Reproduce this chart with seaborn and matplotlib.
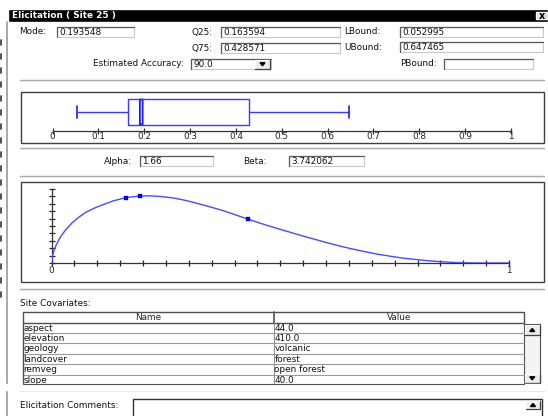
import numpy as np
import pandas as pd
import matplotlib
matplotlib.use("Agg")
import matplotlib.pyplot as plt
import seaborn as sns
from matplotlib.patches import Rectangle, FancyBboxPatch

# elicited values (beta distribution for site 25)
mode_val = 0.193548
q25_val = 0.163594
q75_val = 0.428571
lbound_val = 0.052995
ubound_val = 0.647465
alpha_val = 1.66
beta_val = 3.742062
accuracy = "90.0"

# density curve (y in axis tick units)
curve_x = [0.0, 0.002, 0.005, 0.010, 0.016, 0.0215, 0.03, 0.0445, 0.06, 0.075,
           0.095, 0.1135, 0.135, 0.1636, 0.1935, 0.215, 0.24, 0.267, 0.29, 0.313,
           0.34, 0.374, 0.40, 0.4286, 0.46, 0.497, 0.53, 0.558, 0.59, 0.620,
           0.65, 0.681, 0.71, 0.742, 0.77, 0.804, 0.83, 0.850, 0.875, 0.896,
           0.92, 0.94, 1.0]
curve_y = [0.0, 0.9, 1.6, 2.4, 3.1, 3.7, 4.4, 5.4, 6.2, 6.85,
           7.45, 7.9, 8.4, 8.85, 9.05, 9.08, 8.98, 8.78, 8.5, 8.15,
           7.7, 7.1, 6.55, 5.95, 5.3, 4.6, 4.0, 3.5, 2.95, 2.45,
           2.0, 1.58, 1.22, 0.9, 0.65, 0.42, 0.27, 0.18, 0.09, 0.04,
           0.01, 0.0, 0.0]
marker_x = [q25_val, mode_val, q75_val]
marker_y = [8.85, 9.05, 5.95]

box_ticks = [0, 0.1, 0.2, 0.3, 0.4, 0.5, 0.6, 0.7, 0.8, 0.9, 1]
box_tick_labels = ["0", "0.1", "0.2", "0.3", "0.4", "0.5", "0.6", "0.7", "0.8", "0.9", "1"]

cov_names = ["aspect", "elevation", "geology", "landcover", "remveg", "slope"]
cov_values = ["44.0", "410.0", "volcanic", "forest", "open forest", "40.0"]

W, H = 548, 416
FS = 6.4
BLUE = "#3b3bff"

sns.set_style("white")
plt.rcParams["font.family"] = ["DejaVu Sans"]

fig = plt.figure(figsize=(W / 100, H / 100), dpi=100)
canvas = fig.add_axes([0, 0, 1, 1])
canvas.set_xlim(0, W)
canvas.set_ylim(H, 0)
canvas.axis("off")


def fig_rect(x0, y0, x1, y1):
    # pixel box -> figure fraction
    return [x0 / W, 1 - y1 / H, (x1 - x0) / W, (y1 - y0) / H]


def label(x, y, txt, ha="left", **kw):
    canvas.text(x, y, txt, ha=ha, va="center", fontsize=FS, color="#111111", **kw)


def field(x0, y0, x1, y1, txt=""):
    canvas.add_patch(Rectangle((x0, y0), x1 - x0, y1 - y0, facecolor="white",
                               edgecolor="#c8c8c8", lw=0.8))
    canvas.plot([x0, x0, x1], [y1, y0, y0], color="#5a5a5a", lw=0.9)
    if txt:
        canvas.text(x0 + 2, (y0 + y1) / 2 + 0.5, txt, ha="left", va="center",
                    fontsize=FS, color="#111111")


def separator(y, x0=20, x1=544):
    canvas.plot([x0, x1], [y, y], color="#a8a8a8", lw=1.0)
    canvas.plot([x0, x1], [y + 1.2, y + 1.2], color="#e6e6e6", lw=0.8)


def button(x0, y0, x1, y1, up=True):
    canvas.add_patch(Rectangle((x0, y0), x1 - x0, y1 - y0, facecolor="#ececec",
                               edgecolor="none"))
    canvas.plot([x0, x0, x1], [y1, y0, y0], color="white", lw=0.8)
    canvas.plot([x0, x1, x1], [y1, y1, y0], color="#404040", lw=0.9)
    cx, cy = (x0 + x1) / 2, (y0 + y1) / 2
    if up:
        tri = [[cx - 2.5, cy + 1.5], [cx + 2.5, cy + 1.5], [cx, cy - 1.5]]
    else:
        tri = [[cx - 2.5, cy - 1.5], [cx + 2.5, cy - 1.5], [cx, cy + 1.5]]
    canvas.add_patch(plt.Polygon(tri, color="black"))


# window chrome
canvas.add_patch(Rectangle((8, 8.5), W - 8, 13.5, facecolor="black"))
canvas.text(12, 15.5, "Elicitation ( Site 25 )", color="white", fontsize=FS,
            fontweight="bold", va="center")
canvas.add_patch(Rectangle((536, 12), 12, 7, facecolor="#e0e0e0"))
canvas.text(542, 15.6, "x", color="black", fontsize=FS + 0.5, fontweight="bold",
            ha="center", va="center")
canvas.plot([7, 7], [22, H], color="#9a9a9a", lw=1.2)
for yy in range(40, 300, 14):
    canvas.plot([1, 1], [yy, yy + 5], color="#333333", lw=1.2)

# parameter fields
label(19, 32, "Mode:")
field(57, 27, 134, 37, f"{mode_val:.6f}")
label(192, 32, "Q25:")
field(221, 27, 340, 37, f"{q25_val:.6f}")
label(344, 32, "LBound:")
field(400, 27, 543, 37, f"{lbound_val:.6f}")
label(192, 48, "Q75:")
field(221, 43, 340, 53, f"{q75_val:.6f}")
label(344, 47, "UBound:")
field(400, 42, 543, 52, f"{ubound_val:.6f}")
label(184, 64, "Estimated Accuracy:", ha="right")
field(191, 59, 271, 69, accuracy)
button(255, 60, 270, 68.5, up=False)
label(400, 64, "PBound:")
field(444, 59, 533, 69)
separator(80)

# boxplot panel
canvas.add_patch(Rectangle((21, 91.5), 523, 51, facecolor="white",
                           edgecolor="#404040", lw=1.0))
ax_box = fig.add_axes(fig_rect(52.5, 96, 511, 131))
box_df = pd.DataFrame({"v": [lbound_val, q25_val, mode_val, q75_val, ubound_val]})
sns.boxplot(data=box_df, x="v", orient="h", ax=ax_box, width=0.74, whis=1.5,
            fill=False, color=BLUE, linewidth=1.0,
            medianprops={"color": "none"},
            capprops={"color": "#1a1aff", "linewidth": 1.2})
ax_box.add_patch(FancyBboxPatch((mode_val - 0.003, -0.36), 0.006, 0.72,
                                boxstyle="round,pad=0,rounding_size=0.003",
                                fill=False, edgecolor="#1a1aee", lw=1.3))
ax_box.set_xlim(0, 1)
ax_box.set_ylim(0.543, -0.457)
ax_box.set_facecolor("none")
for s in ["top", "left", "right"]:
    ax_box.spines[s].set_visible(False)
ax_box.spines["bottom"].set_color("#333333")
ax_box.spines["bottom"].set_linewidth(0.9)
ax_box.set_xticks(box_ticks)
ax_box.set_xticklabels(box_tick_labels, fontsize=FS, color="#222222")
ax_box.tick_params(axis="x", bottom=True, direction="inout", length=5, width=0.9,
                   color="#333333", pad=-2)
ax_box.set_yticks([])
ax_box.set_xlabel("")
ax_box.set_ylabel("")
separator(148)

# alpha / beta
label(104, 161, "Alpha:")
field(140, 156, 213, 166, f"{alpha_val:.2f}")
label(243, 161, "Beta:")
field(289, 156, 364, 166, f"{beta_val:.6f}")
separator(176)

# density panel
canvas.add_patch(Rectangle((21, 182), 523, 100, facecolor="white",
                           edgecolor="#404040", lw=1.0))
ax_pdf = fig.add_axes(fig_rect(51.5, 189, 509, 263))
sns.lineplot(x=curve_x, y=curve_y, ax=ax_pdf, color="#4a4aff", lw=1.0, zorder=4)
sns.scatterplot(x=marker_x, y=marker_y, ax=ax_pdf, marker="s", s=9,
                color="#0000ee", edgecolor="#0000ee", zorder=5)
ax_pdf.set_xlim(0, 1)
ax_pdf.set_ylim(0, 10)
ax_pdf.set_facecolor("none")
for s in ["top", "right"]:
    ax_pdf.spines[s].set_visible(False)
for s in ["left", "bottom"]:
    ax_pdf.spines[s].set_color("#333333")
    ax_pdf.spines[s].set_linewidth(0.9)
ax_pdf.set_xticks(np.linspace(0, 1, 21))
ax_pdf.set_xticklabels(["0"] + [""] * 19 + ["1"], fontsize=FS, color="#222222")
ax_pdf.set_yticks(range(0, 11))
ax_pdf.set_yticklabels([])
ax_pdf.tick_params(bottom=True, left=True, direction="inout", length=5, width=0.9,
                   color="#222222", pad=0)
separator(289)

# site covariates table
label(20, 303, "Site Covariates:")
tx0, tx1, tcol = 22.5, 524, 273.5
canvas.add_patch(Rectangle((tx0, 311.5), tx1 - tx0, 11, facecolor="white",
                           edgecolor="#505050", lw=1.0))
canvas.plot([tcol, tcol], [311.5, 322.5], color="#505050", lw=1.2)
canvas.text((tx0 + tcol) / 2, 317.3, "Name", ha="center", va="center", fontsize=FS)
canvas.text((tcol + tx1) / 2, 317.3, "Value", ha="center", va="center", fontsize=FS)
row_h = 10.4
for i, (nm, vl) in enumerate(zip(cov_names, cov_values)):
    y0 = 322.5 + i * row_h
    canvas.text(tx0 + 1, y0 + row_h / 2 + 0.4, nm, ha="left", va="center", fontsize=FS,
                color="#111111", clip_on=True)
    canvas.text(tcol + 1, y0 + row_h / 2 + 0.4, vl, ha="left", va="center", fontsize=FS,
                color="#111111", clip_on=True)
    if i < 5:
        canvas.plot([tx0, tx1], [y0 + row_h, y0 + row_h], color="#9a9a9a", lw=0.8)
canvas.add_patch(Rectangle((0, 383.5), W, 6, facecolor="white", zorder=3))
canvas.plot([tx0, tx0], [322.5, 383.5], color="#505050", lw=1.0)
canvas.plot([tcol, tcol], [322.5, 383.5], color="#909090", lw=0.8)
canvas.plot([tx0, tx1], [383.5, 383.5], color="#505050", lw=0.8, zorder=4)
# scrollbar
canvas.add_patch(Rectangle((524, 324), 16, 59.5, facecolor="#f4f4f4",
                           edgecolor="#505050", lw=0.8))
button(525, 325, 539.5, 335)
button(525, 373.5, 539.5, 383, up=False)
separator(390)

# comments
label(20, 405, "Elicitation Comments:")
canvas.add_patch(Rectangle((133, 399), 409, 30, facecolor="white",
                           edgecolor="#303030", lw=1.0))
button(526, 401, 540, 409)

fig.savefig("out.png", dpi=100)
